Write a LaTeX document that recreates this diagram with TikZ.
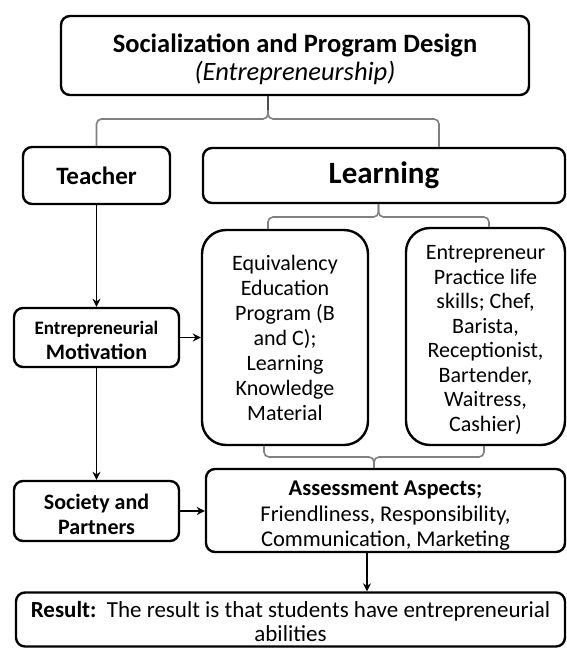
\documentclass[tikz,border=0pt]{standalone}
\usepackage{fontspec}
\setmainfont{Carlito}
\usetikzlibrary{arrows.meta}

\begin{document}
\begin{tikzpicture}[x=1pt, y=-1pt,
    box/.style={draw, line width=2.4pt, rounded corners=9pt, fill=white, align=center, inner sep=0pt, font=\fontsize{22}{25}\selectfont},
    tall/.style={box, rounded corners=24pt},
    arr/.style={line width=1.9pt, -{Stealth[length=8pt,width=8pt]}},
    brace/.style={draw=black!50, line width=1.6pt, rounded corners=5pt}]
    \useasboundingbox (0,0) rectangle (566,648);

    % boxes
    \node[box, minimum width=468pt, minimum height=79pt, font=\fontsize{26.5}{28}\selectfont] (design) at (295,55.5)
        {\rule{0pt}{27pt}\textbf{Socialization and Program Design}\\\textit{(Entrepreneurship)}};
    \node[box, minimum width=147pt, minimum height=57pt, font=\fontsize{25}{28}\selectfont\bfseries] (teacher) at (96.5,175.5) {Teacher};
    \node[box, minimum width=362pt, minimum height=55pt, font=\fontsize{31}{34}\selectfont\bfseries] (learning) at (384,175.5) {Learning};
    \node[box, minimum width=165pt, minimum height=59pt] (motiv) at (96.5,337.5)
        {{\fontsize{19}{23}\selectfont\bfseries\rule{0pt}{20pt}Entrepreneurial}\\{\fontsize{22}{25}\selectfont\bfseries Motivation}};
    \node[tall, minimum width=166pt, minimum height=215pt] (equiv) at (285,337.5)
        {Equivalency\\Education\\Program (B\\and C);\\Learning\\Knowledge\\Material};
    \node[tall, minimum width=159pt, minimum height=217pt, font=\fontsize{22}{24.5}\selectfont] (entre) at (485.5,336.5)
        {\rule{0pt}{21pt}Entrepreneur\\Practice life\\skills; Chef,\\Barista,\\Receptionist,\\Bartender,\\Waitress,\\Cashier)};
    \node[box, minimum width=165pt, minimum height=60pt, font=\fontsize{22}{25}\selectfont\bfseries] (society) at (96.5,511) {\rule{0pt}{22pt}Society and\\Partners};
    \node[box, minimum width=359pt, minimum height=83pt, font=\fontsize{22.5}{25.5}\selectfont] (assess) at (385.5,510.5)
        {\rule{0pt}{25pt}\textbf{Assessment Aspects;}\\Friendliness, Responsibility,\\Communication, Marketing};
    \node[box, minimum width=549pt, minimum height=54pt, font=\fontsize{23}{24}\selectfont] (result) at (290.5,619.5)
        {\rule{0pt}{21pt}\textbf{Result:}\ \ The result is that students have entrepreneurial\\abilities};

    % braces
    \coordinate (tipA) at (268,110);
    \draw[brace] (teacher.north) |- (268,119) -- (tipA);
    \draw[brace] ([xshift=55pt]learning.north) |- (268,119) -- (tipA);
    \draw[line width=1.4pt, black!70] (design.south -| tipA) -- (tipA);

    \coordinate (tipB) at (378.5,217);
    \draw[brace] ([xshift=-17pt]equiv.north) |- (tipB) -- (tipB |- learning.south);
    \draw[brace] ([xshift=3.5pt]entre.north) |- (tipB) -- (tipB |- learning.south);

    \coordinate (tipC) at (374,457);
    \draw[brace] ([xshift=-21pt]equiv.south) |- (tipC) -- (tipC |- assess.north);
    \draw[brace] ([xshift=-1.5pt]entre.south) |- (tipC) -- (tipC |- assess.north);

    % arrows
    \draw[arr] (teacher) -- (motiv);
    \draw[arr] (motiv) -- (society);
    \draw[arr] (motiv.east) -- (motiv.east -| equiv.west);
    \draw[arr] (society.east) -- (society.east -| assess.west);
    \draw[arr] ([xshift=-18.5pt]assess.south) -- ([xshift=-18.5pt]assess.south |- result.north);
\end{tikzpicture}
\end{document}
